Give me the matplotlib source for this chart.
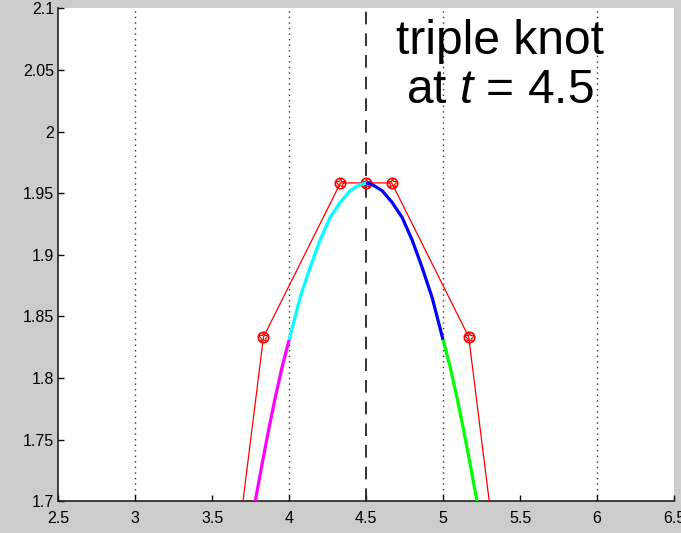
import matplotlib
matplotlib.use("Agg")
import matplotlib.pyplot as plt

plt.rcParams['font.family'] = ['Liberation Sans', 'DejaVu Sans']
plt.rcParams['mathtext.fontset'] = 'custom'
plt.rcParams['mathtext.rm'] = 'Liberation Sans'
plt.rcParams['mathtext.it'] = 'Liberation Sans:italic'

# Control polygon (Greville abscissae, coefficients)
ctrl_t = [3.0, 3.8333, 4.3333, 4.5, 4.6667, 5.1667, 6.0]
ctrl_v = [1.0, 1.8333, 1.9583, 1.9583, 1.9583, 1.8333, 1.0]

# Spline pieces
mag_t = [3.77, 3.823, 3.866, 3.909, 3.955, 4.0]
mag_v = [1.6935, 1.7295, 1.7575, 1.7838, 1.8095, 1.831]

cyan_t = [4.0, 4.035, 4.071, 4.136, 4.201, 4.266, 4.331, 4.396, 4.461, 4.5]
cyan_v = [1.831, 1.848, 1.8653, 1.8897, 1.912, 1.9303, 1.9425, 1.952, 1.957, 1.9583]

blue_t = [4.5, 4.539, 4.604, 4.669, 4.734, 4.799, 4.864, 4.929, 4.965, 5.0]
blue_v = [1.9583, 1.957, 1.952, 1.9425, 1.9303, 1.912, 1.8897, 1.8653, 1.848, 1.831]

green_t = [5.0, 5.045, 5.091, 5.134, 5.177, 5.23]
green_v = [1.831, 1.8095, 1.7838, 1.7575, 1.7295, 1.6935]

xticks = [2.5, 3, 3.5, 4, 4.5, 5, 5.5, 6, 6.5]
xticklabels = ['2.5', '3', '3.5', '4', '4.5', '5', '5.5', '6', '6.5']
yticks = [1.7, 1.75, 1.8, 1.85, 1.9, 1.95, 2.0, 2.05, 2.1]
yticklabels = ['1.7', '1.75', '1.8', '1.85', '1.9', '1.95', '2', '2.05', '2.1']
grid_x = [3, 4, 5, 6]
knot = 4.5

fig = plt.figure(figsize=(6.81, 5.33), dpi=100, facecolor='#cccccc')
ax = fig.add_axes([0.0856, 0.0595, 0.904, 0.925])
ax.set_facecolor('white')

for g in grid_x:
    ax.axvline(g, color='#333333', ls=(0, (1, 3)), lw=1.0, zorder=1)

ax.axvline(knot, color='#222222', ls=(0, (7, 5)), lw=1.3, zorder=2)

ax.plot(ctrl_t, ctrl_v, color='red', lw=0.9, zorder=3)
ax.plot(ctrl_t, ctrl_v, ls='none', marker='o', mfc='none', mec='red', ms=7.5, mew=1.2, zorder=4)
ax.plot(ctrl_t, ctrl_v, ls='none', marker='*', mfc='none', mec='red', ms=7, mew=0.8, zorder=4)

ax.plot(mag_t, mag_v, color='#ff00ff', lw=2.3, zorder=5, solid_capstyle='butt')
ax.plot(cyan_t, cyan_v, color='#00ffff', lw=2.3, zorder=5, solid_capstyle='butt')
ax.plot(blue_t, blue_v, color='#0000ff', lw=2.3, zorder=5, solid_capstyle='butt')
ax.plot(green_t, green_v, color='#00ff00', lw=2.3, zorder=5, solid_capstyle='butt')

ax.set_xlim(2.5, 6.5)
ax.set_ylim(1.7, 2.1)
ax.set_xticks(xticks)
ax.set_xticklabels(xticklabels)
ax.set_yticks(yticks)
ax.set_yticklabels(yticklabels)
ax.tick_params(direction='in', length=4, width=1, labelsize=11.5, colors='black', pad=3)
ax.tick_params(axis='x', pad=7)
ax.spines['top'].set_visible(False)
ax.spines['right'].set_visible(False)
for s in ['left', 'bottom']:
    ax.spines[s].set_linewidth(1.2)
    ax.spines[s].set_color('#222222')

ax.text(5.37, 2.053, 'triple knot\nat $t$ = 4.5', ha='center', va='center',
        multialignment='center', fontsize=34.5, linespacing=1.1, zorder=6)

fig.savefig('out.png', dpi=100, facecolor=fig.get_facecolor())
